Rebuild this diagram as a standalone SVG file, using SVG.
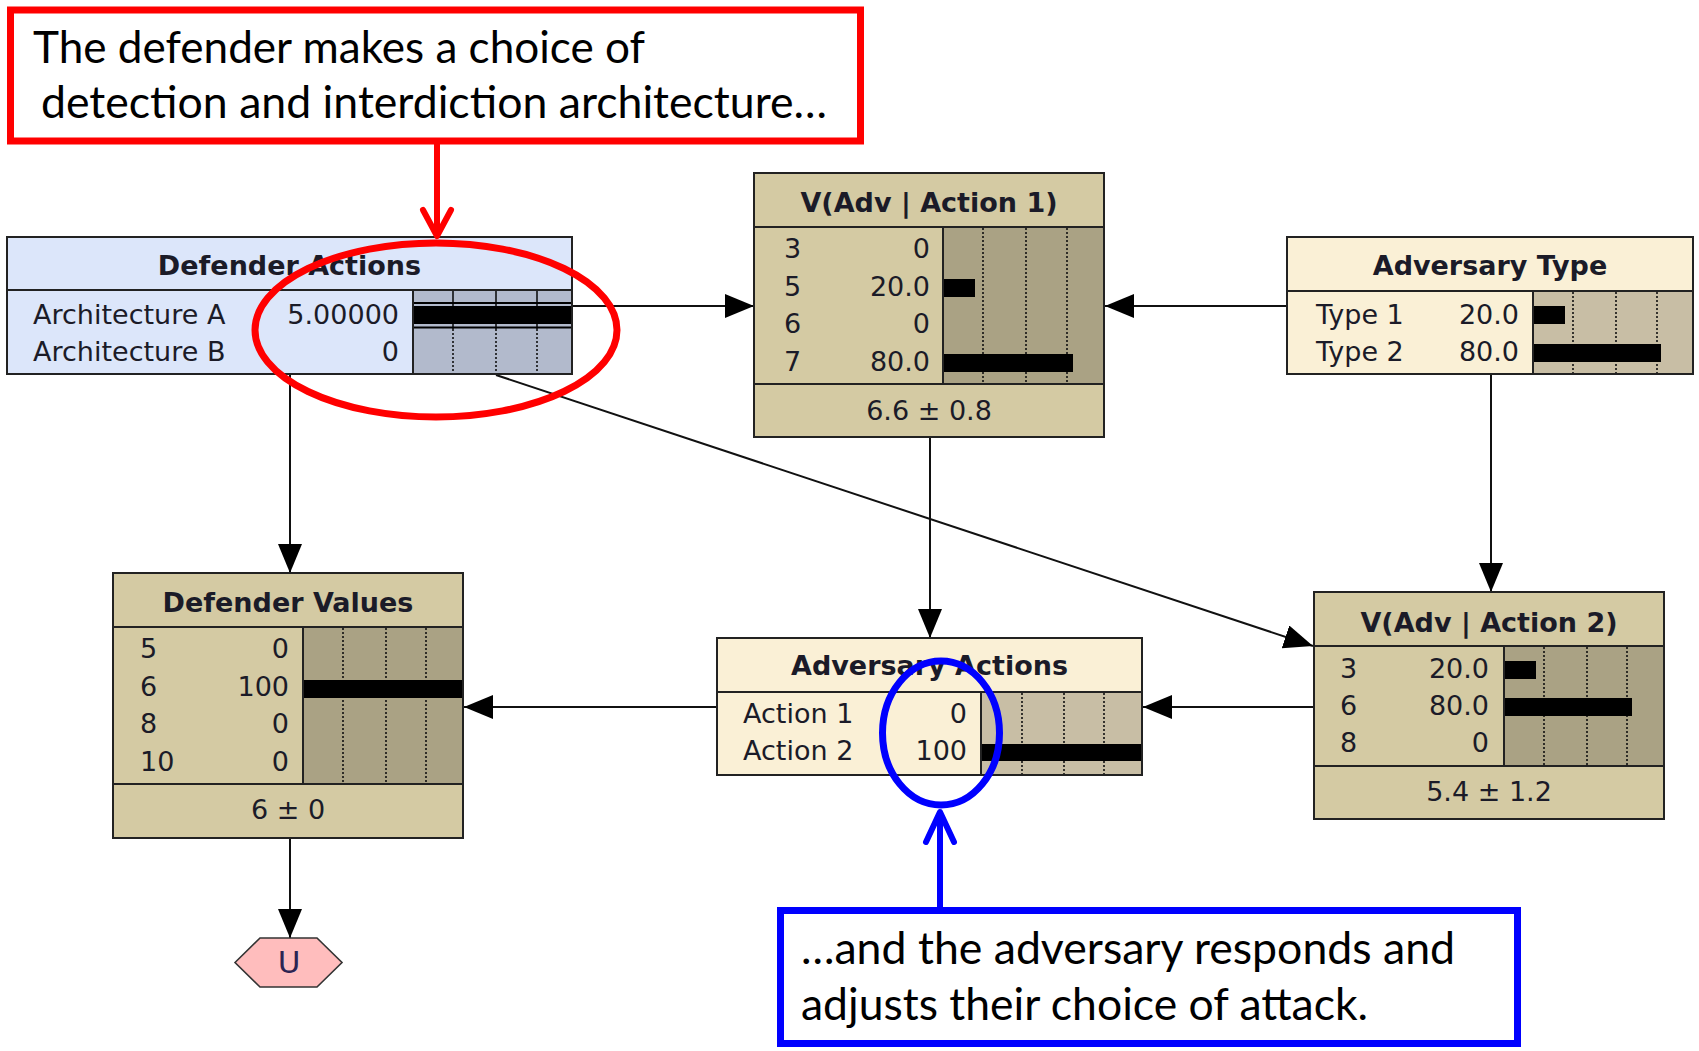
<svg xmlns="http://www.w3.org/2000/svg" width="1699" height="1051" viewBox="0 0 1699 1051">
  <style>
    .nt { font-family: "DejaVu Sans", "Liberation Sans", sans-serif; font-weight: bold; font-size: 27px; fill: #1b1b28; text-anchor: middle; }
    .rl { font-family: "DejaVu Sans", "Liberation Sans", sans-serif; font-size: 27px; fill: #1b1b28; }
    .rv { font-family: "DejaVu Sans", "Liberation Sans", sans-serif; font-size: 27px; fill: #1b1b28; text-anchor: end; }
    .ft { font-family: "DejaVu Sans", "Liberation Sans", sans-serif; font-size: 27px; fill: #1b1b28; text-anchor: middle; }
    .ln { stroke: #222; stroke-width: 2; fill: none; }
    .tan { fill: #d4caa3; }
    .tanbar { fill: #aaa284; }
    .cream { fill: #faf0d6; }
    .creambar { fill: #c8bea5; }
    .blue { fill: #dce6fa; }
    .bluebar { fill: #b2bacc; }
    .grid { stroke: #111; stroke-width: 1.6; stroke-dasharray: 2 2; }
    .tick { stroke: #111; stroke-width: 1.6; }
    .bar { fill: #000; }
    .edge { stroke: #111; stroke-width: 2; fill: none; marker-end: url(#ah); }
    .note { font-family: Lato, "Open Sans", sans-serif; font-size: 44px; fill: #000; }
  </style>
  <defs>
    <marker id="ah" markerUnits="userSpaceOnUse" markerWidth="32" markerHeight="26" refX="29" refY="12" orient="auto">
      <path d="M0,0 L29,12 L0,24 Z" fill="#000"/>
    </marker>
  </defs>

  <rect width="1699" height="1051" fill="#fff"/>

  <!-- links between the network nodes -->
  <g id="connectors">
    <line class="edge" x1="572" y1="306" x2="754" y2="306"/>
    <line class="edge" x1="1287" y1="306" x2="1105" y2="306"/>
    <line class="edge" x1="290" y1="374" x2="290" y2="573"/>
    <line class="edge" x1="496" y1="375" x2="1313" y2="646"/>
    <line class="edge" x1="930" y1="437" x2="930" y2="638"/>
    <line class="edge" x1="1491" y1="374" x2="1491" y2="592"/>
    <line class="edge" x1="1314" y1="707" x2="1143" y2="707"/>
    <line class="edge" x1="717" y1="707" x2="464" y2="707"/>
    <line class="edge" x1="290" y1="838" x2="290" y2="938"/>
  </g>

  <!-- decision node -->
  <g id="defender-actions">
    <rect class="blue" x="7" y="237" width="565" height="137"/>
    <rect class="bluebar" x="413" y="290" width="159" height="84"/>
    <line class="tick" x1="453" y1="291" x2="453" y2="329"/>
    <line class="tick" x1="496" y1="291" x2="496" y2="329"/>
    <line class="tick" x1="537" y1="291" x2="537" y2="329"/>
    <line class="grid" x1="453" y1="329" x2="453" y2="374"/>
    <line class="grid" x1="496" y1="329" x2="496" y2="374"/>
    <line class="grid" x1="537" y1="329" x2="537" y2="374"/>
    <rect class="bar" x="413" y="302" width="159" height="2"/>
    <rect class="bar" x="413" y="306" width="159" height="18"/>
    <rect class="bar" x="413" y="326.5" width="159" height="2"/>
    <rect class="ln" x="7" y="237" width="565" height="137"/>
    <line class="ln" x1="7" y1="290" x2="572" y2="290"/>
    <line class="ln" x1="413" y1="290" x2="413" y2="374"/>
    <text class="nt" x="289.5" y="275">Defender Actions</text>
    <text class="rl" x="33" y="324">Architecture A</text>
    <text class="rv" x="399" y="324">5.00000</text>
    <text class="rl" x="33" y="361">Architecture B</text>
    <text class="rv" x="399" y="361">0</text>
  </g>

  <g id="v-adv-action-1">
    <rect class="tan" x="754" y="173" width="350" height="264"/>
    <rect class="tanbar" x="943" y="227" width="161" height="157"/>
    <line class="grid" x1="983" y1="228" x2="983" y2="384"/>
    <line class="grid" x1="1026" y1="228" x2="1026" y2="384"/>
    <line class="grid" x1="1067" y1="228" x2="1067" y2="384"/>
    <rect class="bar" x="943" y="279" width="32" height="18"/>
    <rect class="bar" x="943" y="354" width="130" height="18"/>
    <rect class="ln" x="754" y="173" width="350" height="264"/>
    <line class="ln" x1="754" y1="227" x2="1104" y2="227"/>
    <line class="ln" x1="754" y1="384" x2="1104" y2="384"/>
    <line class="ln" x1="943" y1="227" x2="943" y2="384"/>
    <text class="nt" x="929" y="212">V(Adv | Action 1)</text>
    <text class="rl" x="784" y="258">3</text>
    <text class="rv" x="930" y="258">0</text>
    <text class="rl" x="784" y="296">5</text>
    <text class="rv" x="930" y="296">20.0</text>
    <text class="rl" x="784" y="333">6</text>
    <text class="rv" x="930" y="333">0</text>
    <text class="rl" x="784" y="371">7</text>
    <text class="rv" x="930" y="371">80.0</text>
    <text class="ft" x="929" y="420">6.6 ± 0.8</text>
  </g>

  <g id="adversary-type">
    <rect class="cream" x="1287" y="237" width="406" height="137"/>
    <rect class="creambar" x="1533" y="291" width="160" height="83"/>
    <line class="grid" x1="1573" y1="292" x2="1573" y2="374"/>
    <line class="grid" x1="1616" y1="292" x2="1616" y2="374"/>
    <line class="grid" x1="1657" y1="292" x2="1657" y2="374"/>
    <rect class="bar" x="1533" y="306" width="32" height="18"/>
    <rect class="bar" x="1533" y="344" width="128" height="18"/>
    <rect class="ln" x="1287" y="237" width="406" height="137"/>
    <line class="ln" x1="1287" y1="291" x2="1693" y2="291"/>
    <line class="ln" x1="1533" y1="291" x2="1533" y2="374"/>
    <text class="nt" x="1490" y="275">Adversary Type</text>
    <text class="rl" x="1316" y="324">Type 1</text>
    <text class="rv" x="1519" y="324">20.0</text>
    <text class="rl" x="1316" y="361">Type 2</text>
    <text class="rv" x="1519" y="361">80.0</text>
  </g>

  <g id="defender-values">
    <rect class="tan" x="113" y="573" width="350" height="265"/>
    <rect class="tanbar" x="303" y="627" width="160" height="157"/>
    <line class="grid" x1="343" y1="628" x2="343" y2="784"/>
    <line class="grid" x1="386" y1="628" x2="386" y2="784"/>
    <line class="grid" x1="426" y1="628" x2="426" y2="784"/>
    <rect class="bar" x="303" y="680" width="160" height="18"/>
    <rect class="ln" x="113" y="573" width="350" height="265"/>
    <line class="ln" x1="113" y1="627" x2="463" y2="627"/>
    <line class="ln" x1="113" y1="784" x2="463" y2="784"/>
    <line class="ln" x1="303" y1="627" x2="303" y2="784"/>
    <text class="nt" x="288" y="612">Defender Values</text>
    <text class="rl" x="140" y="658">5</text>
    <text class="rv" x="289" y="658">0</text>
    <text class="rl" x="140" y="696">6</text>
    <text class="rv" x="289" y="696">100</text>
    <text class="rl" x="140" y="733">8</text>
    <text class="rv" x="289" y="733">0</text>
    <text class="rl" x="140" y="771">10</text>
    <text class="rv" x="289" y="771">0</text>
    <text class="ft" x="288" y="819">6 ± 0</text>
  </g>

  <g id="adversary-actions">
    <rect class="cream" x="717" y="638" width="425" height="137"/>
    <rect class="creambar" x="981" y="692" width="161" height="83"/>
    <line class="grid" x1="1022" y1="693" x2="1022" y2="775"/>
    <line class="grid" x1="1064" y1="693" x2="1064" y2="775"/>
    <line class="grid" x1="1104" y1="693" x2="1104" y2="775"/>
    <rect class="bar" x="981" y="744" width="161" height="17"/>
    <rect class="ln" x="717" y="638" width="425" height="137"/>
    <line class="ln" x1="717" y1="692" x2="1142" y2="692"/>
    <line class="ln" x1="981" y1="692" x2="981" y2="775"/>
    <text class="nt" x="929.5" y="675">Adversary Actions</text>
    <text class="rl" x="743" y="723">Action 1</text>
    <text class="rv" x="967" y="723">0</text>
    <text class="rl" x="743" y="760">Action 2</text>
    <text class="rv" x="967" y="760">100</text>
  </g>

  <g id="v-adv-action-2">
    <rect class="tan" x="1314" y="592" width="350" height="227"/>
    <rect class="tanbar" x="1504" y="646" width="160" height="120"/>
    <line class="grid" x1="1544" y1="647" x2="1544" y2="766"/>
    <line class="grid" x1="1587" y1="647" x2="1587" y2="766"/>
    <line class="grid" x1="1627" y1="647" x2="1627" y2="766"/>
    <rect class="bar" x="1504" y="661" width="32" height="18"/>
    <rect class="bar" x="1504" y="698" width="128" height="18"/>
    <rect class="ln" x="1314" y="592" width="350" height="227"/>
    <line class="ln" x1="1314" y1="646" x2="1664" y2="646"/>
    <line class="ln" x1="1314" y1="766" x2="1664" y2="766"/>
    <line class="ln" x1="1504" y1="646" x2="1504" y2="766"/>
    <text class="nt" x="1489" y="632">V(Adv | Action 2)</text>
    <text class="rl" x="1340" y="678">3</text>
    <text class="rv" x="1489" y="678">20.0</text>
    <text class="rl" x="1340" y="715">6</text>
    <text class="rv" x="1489" y="715">80.0</text>
    <text class="rl" x="1340" y="752">8</text>
    <text class="rv" x="1489" y="752">0</text>
    <text class="ft" x="1489" y="801">5.4 ± 1.2</text>
  </g>

  <!-- utility node -->
  <g id="utility">
    <polygon points="235,962.5 260,938 317,938 342,962.5 317,987 260,987" fill="#ffbdbd" stroke="#333" stroke-width="1.6"/>
    <text x="289" y="973" font-family="DejaVu Sans, sans-serif" font-size="31" fill="#2c2452" text-anchor="middle">U</text>
  </g>

  <!-- red annotation on the defender's decision -->
  <g id="defender-note">
    <rect x="10.5" y="10" width="850" height="131" fill="#fff" stroke="#f00" stroke-width="7"/>
    <text class="note" x="33" y="63" textLength="612" lengthAdjust="spacingAndGlyphs">The defender makes a choice of</text>
    <text class="note" x="41" y="118" textLength="786" lengthAdjust="spacingAndGlyphs">detection and interdiction architecture…</text>
    <line x1="437" y1="144" x2="437" y2="233" stroke="#f00" stroke-width="6"/>
    <polyline points="423,210 437,236 451,210" fill="none" stroke="#f00" stroke-width="6" stroke-linecap="round" stroke-linejoin="round"/>
    <ellipse cx="436" cy="330" rx="181" ry="87" fill="none" stroke="#f00" stroke-width="7"/>
  </g>

  <!-- blue annotation on the adversary's response -->
  <g id="adversary-note">
    <ellipse cx="941" cy="733" rx="58.5" ry="72" fill="none" stroke="#00f" stroke-width="7"/>
    <line x1="940" y1="907" x2="940" y2="815" stroke="#00f" stroke-width="6"/>
    <polyline points="926,842 940,812 954,842" fill="none" stroke="#00f" stroke-width="6" stroke-linecap="round" stroke-linejoin="round"/>
    <rect x="780.5" y="910.5" width="737" height="133" fill="#fff" stroke="#00f" stroke-width="7"/>
    <text class="note" x="801" y="964" textLength="654" lengthAdjust="spacingAndGlyphs">…and the adversary responds and</text>
    <text class="note" x="801" y="1020" textLength="567" lengthAdjust="spacingAndGlyphs">adjusts their choice of attack.</text>
  </g>
</svg>
